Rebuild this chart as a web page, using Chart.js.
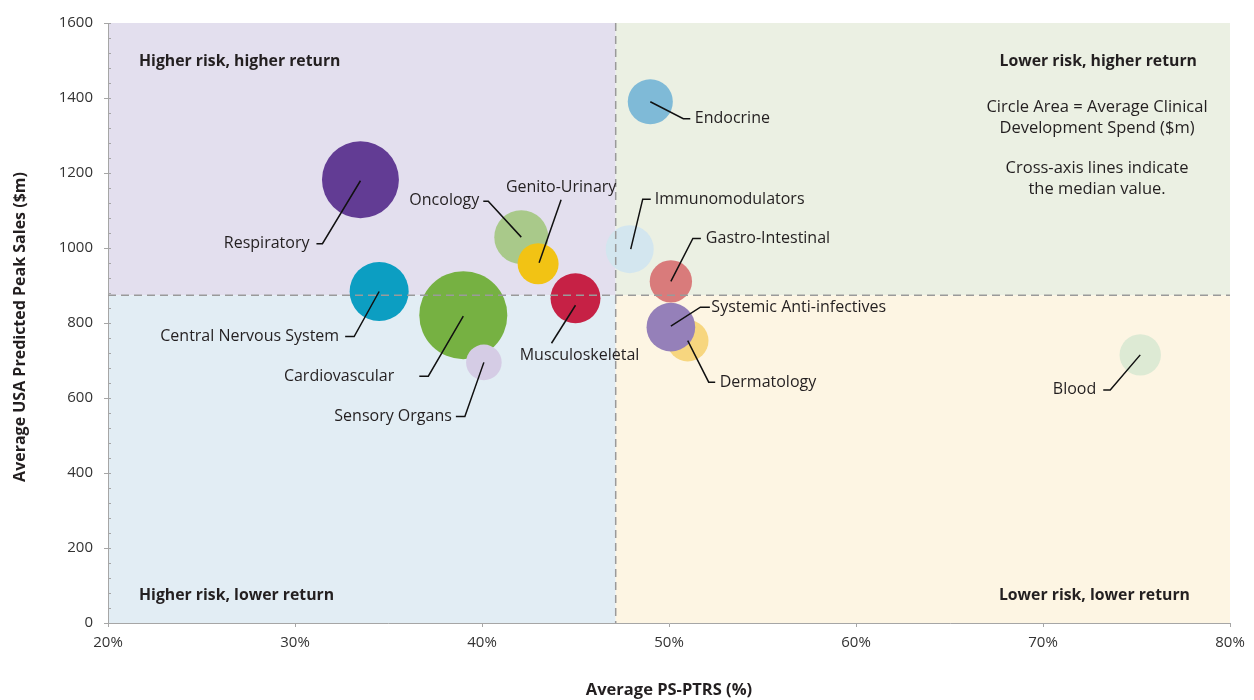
<!DOCTYPE html>
<html><head><meta charset="utf-8">
<script src="https://cdn.jsdelivr.net/npm/chart.js@4.4.1/dist/chart.umd.min.js"></script>
<style>html,body{margin:0;padding:0;background:#fff}#wrap{width:1254px;height:700px;position:relative}</style>
</head><body><div id="wrap"><canvas id="c" width="1254" height="700"></canvas></div>
<script>
// ---------- DATA ----------
const categories = ["Respiratory","Central Nervous System","Cardiovascular","Sensory Organs","Oncology","Genito-Urinary","Musculoskeletal","Immunomodulators","Endocrine","Gastro-Intestinal","Dermatology","Systemic Anti-infectives","Blood"];
const avgPTRS   = [33.5, 34.5, 39.0, 40.1, 42.1, 43.0, 45.0, 47.9, 49.0, 50.1, 51.0, 50.1, 75.2];
const peakSales = [1182, 884, 821, 695, 1029, 958, 866, 997, 1390, 911, 753, 789, 715];
const devSpend  = [370, 218, 484, 79, 182, 105, 156, 144, 127, 112, 108, 148, 107];
const xTickValues = [20,30,40,50,60,70,80];
const yTickValues = [0,200,400,600,800,1000,1200,1400,1600];
const medianPTRS = 47.15;
const medianSales = 874;
const quadrantTitles = ["Higher risk, higher return","Lower risk, higher return","Higher risk, lower return","Lower risk, lower return"];
const noteLines = ["Circle Area = Average Clinical","Development Spend ($m)","","Cross-axis lines indicate","the median value."];
const xTitle = "Average PS-PTRS (%)";
const yTitle = "Average USA Predicted Peak Sales ($m)";

// ---------- STYLE ----------
const colors = ["#623C94","#0C9EC2","#76B142","#D5CCE5","#A9C98A","#F2C314","#C62145","#D3E6EF","#7FBAD7","#D97B7B","#F7D67F","#9580B9","#DDEAD4"];
const quadColors = {tl:"#E3DFEE", tr:"#EBF0E3", bl:"#E2EDF4", br:"#FDF5E3"};
// leader layout relative to bubble center: [sx,sy, ex,ey, hx|null, align, tx, ty]
const leaders = [
  [0,1, -38,64, -44, "right", -51, 64],
  [0,0, -25,45, -34, "right", -40, 45],
  [0,1, -35,61, -44, "right", -69, 61],
  [0,0, -19,54, -28, "right", -32, 54],
  [0,0, -33,-36, -38, "right", -42, -37],
  [1,-1, 23,-64, null, "center", 23, -76],
  [0,7, -24,45, null, "center", 4, 57],
  [1,0, 13,-50, 21, "left", 25, -50],
  [0,0, 33,17, 40, "left", 44.5, 17],
  [0,0, 22,-43, 30, "left", 35, -43],
  [0,0, 21,41.5, 27.5, "left", 32, 41.5],
  [0,-1, 29.5,-20, 39, "left", 40.5, -20],
  [0,0, -30,35, -37, "right", -44, 35]
];
const FONT = "'Open Sans', 'Liberation Sans', sans-serif";
const TXT = "#231F20";
const radiusScale = 2; // r(px) = radiusScale * sqrt(spend)

const points = categories.map((c,i)=>({x:avgPTRS[i], y:peakSales[i], r:radiusScale*Math.sqrt(devSpend[i])}));

const overlay = {
  id:'overlay',
  beforeDraw(chart){
    const {ctx, chartArea:{left,right,top,bottom}, scales:{x,y}} = chart;
    const mx = x.getPixelForValue(medianPTRS), my = y.getPixelForValue(medianSales);
    ctx.save();
    ctx.fillStyle = quadColors.tl; ctx.fillRect(left, top, mx-left, my-top);
    ctx.fillStyle = quadColors.tr; ctx.fillRect(mx, top, right-mx, my-top);
    ctx.fillStyle = quadColors.bl; ctx.fillRect(left, my, mx-left, bottom-my);
    ctx.fillStyle = quadColors.br; ctx.fillRect(mx, my, right-mx, bottom-my);
    ctx.restore();
  },
  afterDatasetsDraw(chart){
    const {ctx, chartArea:{left,right,top,bottom}, scales:{x,y}} = chart;
    const mx = x.getPixelForValue(medianPTRS), my = y.getPixelForValue(medianSales);
    ctx.save();
    // median lines
    ctx.strokeStyle = "#9a9a9a"; ctx.lineWidth = 1.5; ctx.setLineDash([8,5]);
    ctx.beginPath(); ctx.moveTo(left, my); ctx.lineTo(right, my); ctx.stroke();
    ctx.beginPath(); ctx.moveTo(mx, top); ctx.lineTo(mx, bottom); ctx.stroke();
    ctx.setLineDash([]);
    // leaders + labels
    ctx.strokeStyle = "#111"; ctx.lineWidth = 1.5; ctx.lineJoin = "miter";
    ctx.fillStyle = TXT; ctx.font = "16px " + FONT; ctx.textBaseline = "middle";
    categories.forEach((c,i)=>{
      const cx = x.getPixelForValue(avgPTRS[i]), cy = y.getPixelForValue(peakSales[i]);
      const [sx,sy,ex,ey,hx,al,tx,ty] = leaders[i];
      ctx.beginPath(); ctx.moveTo(cx+sx, cy+sy); ctx.lineTo(cx+ex, cy+ey);
      if (hx !== null) ctx.lineTo(cx+hx, cy+ey);
      ctx.stroke();
      ctx.textAlign = al; ctx.fillText(c, cx+tx, cy+ty);
    });
    // quadrant titles
    ctx.font = "bold 15.8px " + FONT;
    ctx.textAlign = "left";
    ctx.fillText(quadrantTitles[0], left+31, top+38);
    ctx.fillText(quadrantTitles[2], left+31, bottom-28);
    ctx.textAlign = "right";
    ctx.fillText(quadrantTitles[1], right-33, top+38);
    ctx.fillText(quadrantTitles[3], right-40, bottom-28);
    // note
    ctx.font = "16.5px " + FONT; ctx.textAlign = "center";
    const noteY = [84, 105, 0, 145, 166];
    noteLines.forEach((t,k)=>{ if(t) ctx.fillText(t, right-133, top+noteY[k]); });
    ctx.restore();
  },
  afterDraw(chart){
    const {ctx, chartArea:{left,right,top,bottom}, scales:{y}} = chart;
    ctx.save();
    // minor ticks on y
    ctx.strokeStyle = "#a6a6a6"; ctx.lineWidth = 1;
    for (let v=0; v<=1600; v+=40){
      const py = Math.round(y.getPixelForValue(v))+0.5;
      ctx.beginPath(); ctx.moveTo(left, py); ctx.lineTo(left+3, py); ctx.stroke();
    }
    // axis titles
    ctx.fillStyle = TXT; ctx.textAlign = "center"; ctx.textBaseline = "middle";
    ctx.font = "bold 16.5px " + FONT;
    ctx.fillText(xTitle, (left+right)/2, 690);
    ctx.font = "bold 16px " + FONT;
    ctx.translate(20, 327); ctx.rotate(-Math.PI/2);
    ctx.fillText(yTitle, 0, 0);
    ctx.restore();
  }
};

new Chart(document.getElementById('c'), {
  type:'bubble',
  data:{ datasets:[{ data: points, backgroundColor: colors, borderWidth:0, hoverBorderWidth:0, hoverRadius:0 }]},
  options:{
    responsive:false, animation:false, devicePixelRatio:1,
    layout:{ autoPadding:false, padding:{ top:23, right:24, left:0, bottom:0 } },
    plugins:{ legend:{display:false}, tooltip:{enabled:false} },
    events:[],
    scales:{
      x:{ type:'linear', min:20, max:80,
        afterBuildTicks(s){ s.ticks = xTickValues.map(v=>({value:v})); },
        afterFit(s){ s.height = 77; },
        ticks:{ callback:v=>v+'%', color:'#333', font:{family:FONT, size:15}, padding:7, maxRotation:0, autoSkip:false },
        grid:{ drawOnChartArea:false, drawTicks:true, tickLength:4, color:'#a6a6a6' },
        border:{ display:true, color:'#a6a6a6', width:1 }
      },
      y:{ type:'linear', min:0, max:1600,
        afterBuildTicks(s){ s.ticks = yTickValues.map(v=>({value:v})); },
        afterFit(s){ s.width = 108; },
        ticks:{ callback:v=>String(v), color:'#333', font:{family:FONT, size:15}, padding:11, autoSkip:false },
        grid:{ drawOnChartArea:false, drawTicks:true, tickLength:4, color:'#a6a6a6' },
        border:{ display:true, color:'#a6a6a6', width:1 }
      }
    }
  },
  plugins:[overlay]
});
</script>
</body></html>
